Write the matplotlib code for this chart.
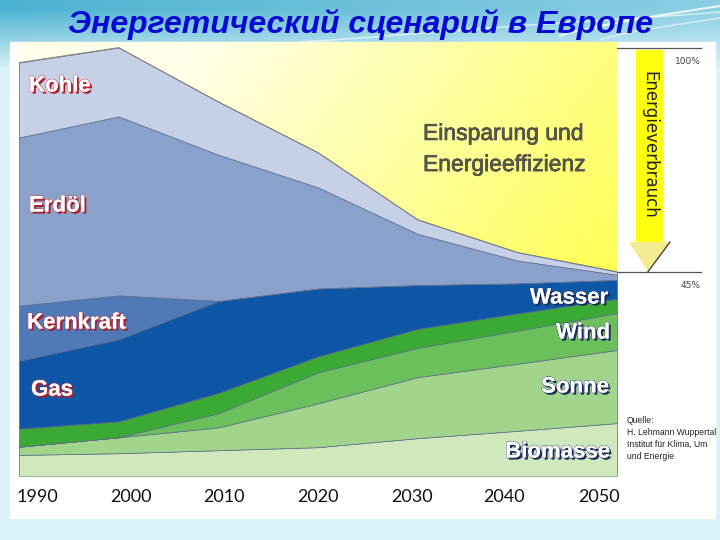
import numpy as np
import matplotlib.pyplot as plt
import matplotlib.patheffects as pe
from matplotlib.patches import Rectangle, Polygon

# data (share of 2000 consumption, %)
years = [1990, 2000, 2010, 2020, 2030, 2040, 2050]
biomasse = [4.9, 5.3, 6.0, 6.7, 8.8, 10.5, 12.3]
sonne = [1.9, 3.7, 5.3, 10.2, 14.2, 15.6, 17.0]
wind = [0.0, 0.0, 3.3, 7.2, 6.8, 7.7, 8.6]
wasser = [4.2, 3.7, 4.7, 3.7, 4.4, 4.0, 3.3]
gas = [15.8, 19.1, 21.4, 15.8, 10.2, 7.0, 4.4]
kernkraft = [12.8, 10.2, 0.0, 0.0, 0.0, 0.0, 0.0]
erdoel = [39.1, 41.6, 34.0, 23.5, 11.9, 5.3, 1.2]
kohle = [17.4, 16.0, 12.3, 8.1, 3.3, 1.9, 0.7]

tick_labels = ['1990', '2000', '2010', '2020', '2030', '2040', '2050']
tick_pos = [1991.8, 2001.2, 2010.6, 2020.0, 2029.4, 2038.7, 2048.2]

colors = ['#cfe9bd', '#a2d58c', '#6cc05c', '#3aaa35',
          '#0e56a6', '#5079b8', '#8aa2cb', '#c6d0e7']

W, H = 720, 540
fig = plt.figure(figsize=(7.2, 5.4), dpi=100)

def px_rect(x0, y0, x1, y1):
    return [x0 / W, 1 - y1 / H, (x1 - x0) / W, (y1 - y0) / H]

# slide background
bg = fig.add_axes([0, 0, 1, 1])
bg.set_xlim(0, W)
bg.set_ylim(H, 0)
bg.axis('off')
yy, xx = np.mgrid[0:H, 0:W]
base = np.array([0.86, 0.95, 0.98])
teal = np.array([0.30, 0.70, 0.82])
wt = np.clip(1.15 - yy / 60.0, 0, 1) * (1 - 0.45 * xx / W)
img = base * (1 - wt[..., None]) + teal * wt[..., None]
bg.imshow(img, extent=[0, W, H, 0], aspect='auto')
u = np.linspace(0, 1, 40)
bg.plot(300 + 420 * u, 42 - 8 * np.sin(np.pi * u) - 30 * u ** 2, color='white', lw=1.2, alpha=0.6)
bg.plot(560 + 160 * u, 36 - 30 * u ** 0.8, color='white', lw=1.5, alpha=0.8)
bg.plot(600 + 120 * u, 40 - 22 * u ** 0.8, color='white', lw=1, alpha=0.6)
bg.add_patch(Rectangle((10, 42), 705, 476, color='white'))

# main chart
ax = fig.add_axes(px_rect(19, 42, 617, 476))
ytop = 100.9
ax.set_xlim(1990, 2050)
ax.set_ylim(0, ytop)
ax.set_facecolor('none')
layers = [biomasse, sonne, wind, wasser, gas, kernkraft, erdoel, kohle]
ax.stackplot(years, *layers, colors=colors, edgecolor='#5a6a8a', linewidth=0.5)
total = np.sum(layers, axis=0)

# yellow savings area with gradient
gy, gx = np.mgrid[0:200, 0:300]
t = np.clip(0.85 * gx / 300 + 0.45 * gy / 200 - 0.25, 0, 1)
c0 = np.array([1.0, 1.0, 0.92])
c1 = np.array([1.0, 1.0, 0.22])
grad = c0 * (1 - t[..., None]) + c1 * t[..., None]
im = ax.imshow(grad, extent=[1990, 2050, 0, ytop], origin='upper', aspect='auto', zorder=0)
poly = ax.fill_between(years, total, ytop, facecolor='none', edgecolor='none')
im.set_clip_path(poly.get_paths()[0], transform=ax.transData)
ax.plot(years, total, color='#7a7a6a', lw=0.6)

for s in ['top', 'left', 'right']:
    ax.spines[s].set_visible(False)
ax.spines['bottom'].set_color('#9ab89a')
ax.set_yticks([])
ax.set_xticks(tick_pos, tick_labels)
ax.tick_params(axis='x', length=0, pad=9, labelsize=13, labelcolor='#111')
for lb in ax.get_xticklabels():
    lb.set_family('Lato')

# side panel with consumption arrow
sd = fig.add_axes(px_rect(617, 42, 715, 476))
sd.set_xlim(617, 715)
sd.set_ylim(0, ytop)
sd.axis('off')
sd.plot([617, 701], [total[1], total[1]], color='#555', lw=0.9)
sd.plot([617, 701], [total[-1], total[-1]], color='#555', lw=0.9)
sd.text(701, total[1] - 3.8, '100%', ha='right', fontsize=6.5, color='#444')
sd.text(701, total[-1] - 3.8, '45%', ha='right', fontsize=6.5, color='#444')
shaft_bot = 54.4
sd.add_patch(Rectangle((636, shaft_bot), 27, total[1] - 0.6 - shaft_bot, color='#ffff10', lw=0))
sd.add_patch(Polygon([(629, shaft_bot), (670, shaft_bot), (648, total[-1])],
                     closed=True, facecolor='#f4ec90', edgecolor='none'))
sd.plot([670, 648], [shaft_bot, total[-1]], color='#333', lw=0.9)
sd.text(649.5, 77, 'Energieverbrauch', rotation=-90, ha='center', va='center',
        fontsize=12, color='#222')

# overlay for text
ov = fig.add_axes([0, 0, 1, 1])
ov.set_xlim(0, W)
ov.set_ylim(H, 0)
ov.axis('off')
ov.patch.set_alpha(0)

ov.text(360, 24, 'Энергетический сценарий в Европе', ha='center', va='center',
        fontsize=23, fontweight='bold', fontstyle='italic', color='#0808d4',
        family='Liberation Sans')

red_fx = [pe.withSimplePatchShadow(offset=(1.5, -1.5), shadow_rgbFace='#a8202c', alpha=1),
          pe.withStroke(linewidth=0.8, foreground='#c03038'), pe.Normal()]
blue_fx = [pe.withSimplePatchShadow(offset=(1.5, -1.5), shadow_rgbFace='#1c2a5a', alpha=1),
           pe.withStroke(linewidth=0.8, foreground='#2a3a6a'), pe.Normal()]
for txt, x, y in [('Kohle', 29, 86), ('Erdöl', 29, 206), ('Kernkraft', 27, 323), ('Gas', 31, 390)]:
    ov.text(x, y, txt, ha='left', va='center', fontsize=16, fontweight='bold',
            color='white', family='Liberation Sans', path_effects=red_fx)
for txt, x, y in [('Wasser', 608, 298), ('Wind', 610, 333), ('Sonne', 609, 387), ('Biomasse', 610, 452)]:
    ov.text(x, y, txt, ha='right', va='center', fontsize=16, fontweight='bold',
            color='white', family='Liberation Sans', path_effects=blue_fx)

ov.text(423, 149, 'Einsparung und\nEnergieeffizienz', ha='left', va='center', fontsize=16.5,
        color='#55554a', family='Liberation Sans', linespacing=1.45,
        path_effects=[pe.withStroke(linewidth=0.5, foreground='#55554a'), pe.Normal()])

ov.text(627, 416, 'Quelle:\nH. Lehmann Wuppertal\nInstitut für Klima, Um\nund Energie',
        ha='left', va='top', fontsize=6.2, color='#222', family='Liberation Sans', linespacing=1.45)

fig.savefig('out.png', dpi=100)
